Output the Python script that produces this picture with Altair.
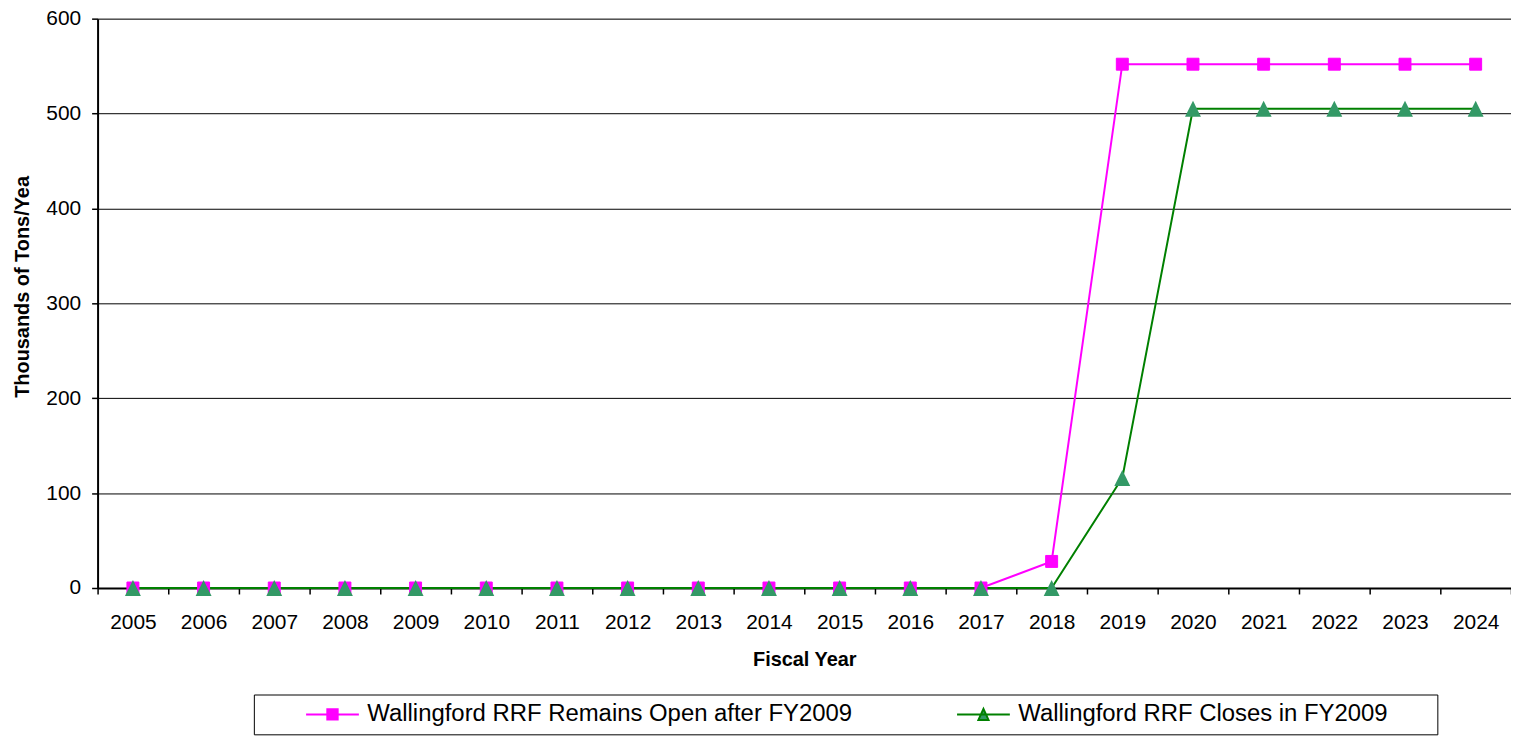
import altair as alt
import pandas as pd

FONT = "Liberation Sans"

years = ["2005", "2006", "2007", "2008", "2009", "2010", "2011", "2012", "2013", "2014",
         "2015", "2016", "2017", "2018", "2019", "2020", "2021", "2022", "2023", "2024"]
open_vals = [0, 0, 0, 0, 0, 0, 0, 0, 0, 0, 0, 0, 0, 28, 552, 552, 552, 552, 552, 552]
close_vals = [0, 0, 0, 0, 0, 0, 0, 0, 0, 0, 0, 0, 0, 0, 116, 505, 505, 505, 505, 505]

S_OPEN = "Wallingford RRF Remains Open after FY2009"
S_CLOSE = "Wallingford RRF Closes in FY2009"
series_names = [S_OPEN, S_CLOSE]
line_colors = ["#FF00FF", "#008000"]
marker_fills = ["#FF00FF", "#339966"]
# legend glyphs: a line segment with the marker in the middle (the trailing move-to only
# widens the legend entry's bounding box so the frame reaches the right like the original)
legend_shapes = [
    "M-4.08,0H4.08M-0.8,-0.8H0.8V0.8H-0.8Z",
    "M-4.08,0H4.08M0,-0.85L0.78,0.85H-0.78ZM68.3,0",
]
y_ticks = [0, 100, 200, 300, 400, 500, 600]

rows = []
for i, yr in enumerate(years):
    rows.append({"year": yr, "series": S_OPEN, "value": open_vals[i]})
for i, yr in enumerate(years):
    rows.append({"year": yr, "series": S_CLOSE, "value": close_vals[i]})
df = pd.DataFrame(rows)

x_enc = alt.X(
    "year:O", sort=years,
    scale=alt.Scale(type="band", paddingInner=0, paddingOuter=0),
    axis=alt.Axis(
        title="Fiscal Year", labelAngle=0, tickBand="extent",
        labelFont=FONT, labelFontSize=21, labelColor="black", labelPadding=18,
        tickSize=6, tickWidth=1.5, tickColor="black",
        domainColor="black", domainWidth=2, grid=False,
        titleFont=FONT, titleFontSize=20, titleFontWeight="bold", titleColor="black",
        titleY=62, zindex=0,
    ),
)
y_enc = alt.Y(
    "value:Q",
    scale=alt.Scale(domain=[0, 600], nice=False),
    axis=alt.Axis(
        title="Thousands of Tons/Yea", values=y_ticks, format="d",
        labelFont=FONT, labelFontSize=21, labelColor="black", labelPadding=11,
        tickSize=6, tickWidth=1.5, tickColor="black",
        domainColor="black", domainWidth=2,
        grid=True, gridColor="black", gridWidth=1,
        titleFont=FONT, titleFontSize=20, titleFontWeight="bold", titleColor="black",
        titleAngle=270, titleX=-75, titleY=269, titleBaseline="middle", titleAlign="center",
        zindex=0,
    ),
)

nbsp = "\u00a0"
legend = alt.Legend(
    orient="none", legendX=157, legendY=679, direction="horizontal", columns=2,
    columnPadding=100, title=nbsp, titleOrient="left", titleFontSize=1, titlePadding=44,
    padding=8, strokeColor="black", fillColor="white",
    labelFont=FONT, labelFontSize=24, labelColor="black", labelLimit=1000, labelOffset=23,
    symbolSize=169, symbolStrokeWidth=2, symbolOffset=15, symbolOpacity=1,
)

base = alt.Chart(df)

line_open = base.transform_filter(alt.datum.series == S_OPEN).mark_line(
    strokeWidth=2, color="#FF00FF").encode(x=x_enc, y=y_enc)
line_close = base.transform_filter(alt.datum.series == S_CLOSE).mark_line(
    strokeWidth=2, color="#008000").encode(x=x_enc, y=y_enc)

pts_open = base.transform_filter(alt.datum.series == S_OPEN).mark_point(
    shape="square", filled=True, size=144, fill="#FF00FF", stroke="#FF00FF",
    strokeWidth=1, opacity=1,
).encode(x=x_enc, y=y_enc)

pts_close = base.transform_filter(alt.datum.series == S_CLOSE).mark_point(
    shape="M0,-1L1,1L-1,1Z", filled=True, size=256, fill="#339966", opacity=1,
).encode(x=x_enc, y=y_enc)

legend_layer = base.mark_point(
    filled=True, opacity=0, strokeWidth=2,
).encode(
    x=x_enc, y=y_enc,
    color=alt.Color("series:N", scale=alt.Scale(domain=series_names, range=marker_fills), legend=legend),
    stroke=alt.Stroke("series:N", scale=alt.Scale(domain=series_names, range=line_colors), legend=legend),
    shape=alt.Shape("series:N", scale=alt.Scale(domain=series_names, range=legend_shapes), legend=legend),
)

chart = alt.layer(line_open, line_close, pts_open, pts_close, legend_layer).properties(
    width=1420, height=572,
    padding={"left": 90, "top": 9, "right": 0, "bottom": 150},
    autosize=alt.AutoSizeParams(type="none"),
    background="white",
).configure_view(stroke=None).configure(font=FONT)

chart.save("out.html", embed_options={"renderer": "svg", "actions": False})
